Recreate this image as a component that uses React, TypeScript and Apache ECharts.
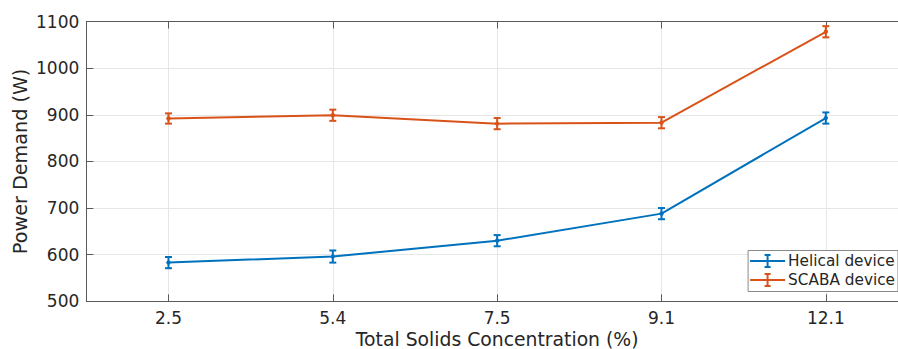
import React, { useEffect, useRef } from "react";
import * as echarts from "echarts";

const categories = ["2.5", "5.4", "7.5", "9.1", "12.1"];
const helical = [583, 596, 630, 688, 893];
const helicalErr = [12, 13, 12, 12, 12];
const scaba = [892, 899, 881, 883, 1078];
const scabaErr = [11, 12, 12, 12, 12];
const yMin = 500;
const yMax = 1100;
const yStep = 100;

const BLUE = "#0072BD";
const ORANGE = "#D95319";
const TEXT = "#262626";
const AXIS = "#5a5a5a";
const GRID = "#e6e6e6";
const FONT = "DejaVu Sans";

const legendIcon =
  "path://M0,6H35V8H0Z M16.5,1H18.5V13H16.5Z M14.5,0H20.5V2H14.5Z M14.5,12H20.5V14H14.5Z";

function errRender(color: string) {
  return (params: any, api: any) => {
    const x = api.value(0);
    const y = api.value(1);
    const e = api.value(2);
    const top = api.coord([x, y + e]);
    const bot = api.coord([x, y - e]);
    const mid = api.coord([x, y]);
    const hw = 3.5;
    const style = { stroke: color, lineWidth: 2, fill: "none" };
    return {
      type: "group",
      children: [
        { type: "line", shape: { x1: top[0], y1: top[1], x2: bot[0], y2: bot[1] }, style },
        { type: "line", shape: { x1: top[0] - hw, y1: top[1], x2: top[0] + hw, y2: top[1] }, style },
        { type: "line", shape: { x1: bot[0] - hw, y1: bot[1], x2: bot[0] + hw, y2: bot[1] }, style },
        { type: "circle", shape: { cx: mid[0], cy: mid[1], r: 2.2 }, style: { fill: color } },
      ],
    };
  };
}

export default function App() {
  const ref = useRef<HTMLDivElement>(null);
  useEffect(() => {
    document.body.style.overflow = "hidden";
    const chart = echarts.init(ref.current!, null, { renderer: "svg" });
    chart.setOption({
      animation: false,
      backgroundColor: "#ffffff",
      grid: {
        left: 86.3,
        right: 0,
        top: 21.5,
        bottom: 47.7,
        containLabel: false,
        outerBoundsMode: "none",
      },
      legend: {
        data: [
          { name: "Helical device", icon: legendIcon },
          { name: "SCABA device", icon: legendIcon },
        ],
        orient: "vertical",
        right: 10,
        bottom: 57.5,
        z: 10,
        backgroundColor: "#ffffff",
        borderColor: "#8a8a8a",
        borderWidth: 1,
        borderRadius: 0,
        padding: [1, 3, 2, 2],
        itemWidth: 35,
        itemHeight: 14,
        itemGap: 0,
        selectedMode: false,
        textStyle: { fontFamily: FONT, fontSize: 15.3, color: TEXT, lineHeight: 19, padding: [0, 0, 0, -2] },
      },
      xAxis: [
        {
          type: "category",
          data: categories,
          boundaryGap: true,
          position: "bottom",
          axisLine: { show: true, lineStyle: { color: AXIS, width: 1 } },
          axisTick: { show: true, inside: true, alignWithLabel: true, length: 7, lineStyle: { color: AXIS } },
          axisLabel: { fontFamily: FONT, fontSize: 17, color: TEXT, margin: 8 },
          splitLine: { show: false },
          name: "Total Solids Concentration (%)",
          nameLocation: "middle",
          nameGap: 28.8,
          nameMoveOverlap: false,
          nameTextStyle: { fontFamily: FONT, fontSize: 18.8, color: TEXT },
        },
        {
          type: "category",
          data: categories,
          boundaryGap: true,
          position: "top",
          axisLine: { show: true, lineStyle: { color: AXIS, width: 1 } },
          axisTick: { show: true, inside: true, alignWithLabel: true, length: 7, lineStyle: { color: AXIS } },
          axisLabel: { show: false },
          splitLine: { show: false },
        },
      ],
      yAxis: {
        type: "value",
        min: yMin,
        max: yMax,
        interval: yStep,
        axisLine: { show: true, lineStyle: { color: AXIS, width: 1 } },
        axisTick: { show: true, inside: true, length: 7, lineStyle: { color: AXIS } },
        axisLabel: {
          fontFamily: FONT,
          fontSize: 17,
          color: TEXT,
          margin: 7,
          formatter: (v: number) => String(v),
        },
        splitLine: { show: true, lineStyle: { color: GRID, width: 1 } },
        name: "Power Demand (W)",
        nameLocation: "middle",
        nameGap: 56,
        nameMoveOverlap: false,
        nameTextStyle: { fontFamily: FONT, fontSize: 19.2, color: TEXT },
      },
      series: [
        {
          name: "_grid",
          type: "line",
          data: categories.map(() => "-"),
          z: 0,
          silent: true,
          symbol: "none",
          markLine: {
            silent: true,
            z: 0,
            symbol: ["none", "none"],
            label: { show: false },
            lineStyle: { color: GRID, width: 1, type: "solid" },
            data: categories.map((c) => ({ xAxis: c })),
          },
        },
        {
          name: "Helical device",
          type: "line",
          data: helical,
          symbol: "none",
          z: 3,
          itemStyle: { color: BLUE },
          lineStyle: { color: BLUE, width: 2 },
        },
        {
          name: "SCABA device",
          type: "line",
          data: scaba,
          symbol: "none",
          z: 3,
          itemStyle: { color: ORANGE },
          lineStyle: { color: ORANGE, width: 2 },
        },
        {
          name: "Helical device",
          type: "custom",
          z: 4,
          data: helical.map((v, i) => [i, v, helicalErr[i]]),
          encode: { x: 0, y: 1 },
          renderItem: errRender(BLUE),
          itemStyle: { color: BLUE },
        },
        {
          name: "SCABA device",
          type: "custom",
          z: 4,
          data: scaba.map((v, i) => [i, v, scabaErr[i]]),
          encode: { x: 0, y: 1 },
          renderItem: errRender(ORANGE),
          itemStyle: { color: ORANGE },
        },
      ],
    });
    return () => chart.dispose();
  }, []);
  return (
    <div
      ref={ref}
      style={{ position: "fixed", left: 0, top: 0, width: 908, height: 349 }}
    />
  );
}
